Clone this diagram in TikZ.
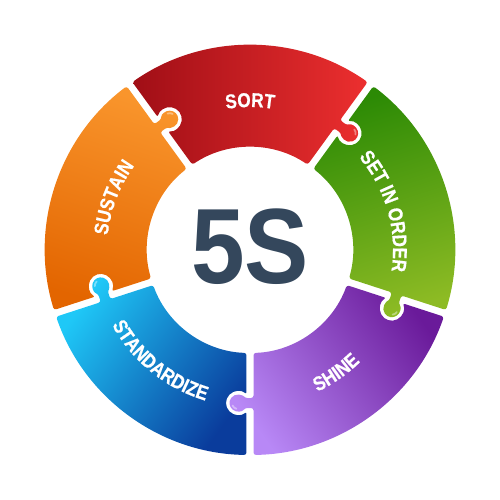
\documentclass[tikz,border=0pt]{standalone}
\usepackage{fontspec}
\setmainfont{Liberation Sans}
\newfontfamily\lblfam[FakeStretch=0.86, FakeBold=0.6]{Liberation Sans Bold}
\newfontfamily\bigfam[FakeStretch=0.9]{Liberation Sans}
\usetikzlibrary{calc,decorations.text}
\definecolor{sortD}{HTML}{A00E16}
\definecolor{sortL}{HTML}{EC2F2F}
\definecolor{setD}{HTML}{2C8A05}
\definecolor{setL}{HTML}{8DBB24}
\definecolor{shiD}{HTML}{6A1A9A}
\definecolor{shiL}{HTML}{B888F6}
\definecolor{staD}{HTML}{0A3C9C}
\definecolor{staL}{HTML}{1FC8F7}
\definecolor{susD}{HTML}{E36500}
\definecolor{susL}{HTML}{F9952C}
\definecolor{slate}{HTML}{34475C}
\newcommand\lblfont{\lblfam\fontsize{20}{22}\selectfont}
\newcommand\bigfont{\bigfam\bfseries\fontsize{107}{110}\selectfont}
\tikzset{
  piece/.style={rounded corners=2.5pt},
  gloss/.style={white, opacity=0.4, line width=1.8pt, line cap=round},
  lbl/.style={decorate, decoration={text along path, text align=center, text color=white, text={|\lblfont|#1}}}
}
\begin{document}
\begin{tikzpicture}
\useasboundingbox (-250pt,-250pt) rectangle (250pt,250pt);
\foreach \a/\dk/\lt in {90/sortD/sortL, 18/setD/setL, -54/shiD/shiL, -126/staD/staL, 162/susD/susL}{
  \pgfmathsetmacro\bA{\a+36}
  \pgfmathsetmacro\bB{\a-36}
  \shade[piece, left color=\dk, right color=\lt, shading angle=\a]
    (\bA-0.98:205pt) arc[start angle=\bA-0.98, end angle=\bB+0.98, radius=205pt]
    -- ($(\bB:158pt)+(\bB+90:3.5pt)$)
    -- ($(\bB:158pt)+(\bB-90:5.13pt)$)
    arc[start angle=\bB+53.97, end angle=\bB-233.97, radius=8.5pt]
    -- ($(\bB:148pt)+(\bB+90:3.5pt)$)
    -- (\bB+1.95:103pt)
    arc[start angle=\bB+1.95, end angle=\bA-1.95, radius=103pt]
    -- ($(\bA:144.5pt)+(\bA-90:3.53pt)$)
    arc[start angle=\bA+135.1, end angle=\bA+404.9, radius=12pt]
    -- cycle;
  \draw[gloss] ($(\bB:153pt)+(\bB-90:12pt)+(\bB-15:6pt)$) arc[start angle=\bB-15, end angle=\bB-65, radius=6pt];
}
\path[lbl=SORT] (130:143pt) arc[start angle=130, end angle=50, radius=143pt];
\path[lbl=SET IN ORDER] (56:143pt) arc[start angle=56, end angle=-24, radius=143pt];
\path[lbl=SUSTAIN] (199:143pt) arc[start angle=199, end angle=119, radius=143pt];
\path[lbl=SHINE] (-95:157pt) arc[start angle=-95, end angle=-15, radius=157pt];
\path[lbl=STANDARDIZE] (191:157pt) arc[start angle=191, end angle=271, radius=157pt];
\node[text=slate, font=\bigfont, inner sep=0pt] (five) at (0,3.5pt) {5S};
\end{tikzpicture}
\end{document}
